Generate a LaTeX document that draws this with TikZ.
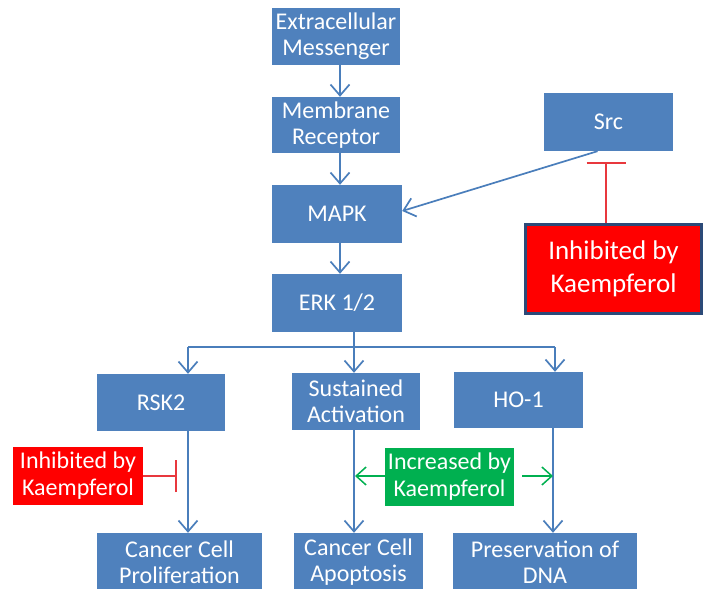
\documentclass[tikz,border=0pt]{standalone}
\usepackage{fontspec}
\setmainfont{Carlito}
\usetikzlibrary{arrows.meta}
\definecolor{boxblue}{HTML}{4F81BD}
\definecolor{lineblue}{HTML}{4A7EBB}
\definecolor{inhred}{HTML}{FF0000}
\definecolor{barred}{HTML}{E8383D}
\definecolor{incgreen}{HTML}{00B050}
\definecolor{navy}{HTML}{2C4A78}
\tikzset{
  bluebox/.style={fill=boxblue, text=white, align=center, inner sep=0pt,
    font=\fontsize{24}{26}\selectfont},
  redbox/.style={fill=inhred, text=white, align=center, inner sep=0pt,
    font=\fontsize{24}{27}\selectfont},
  greenbox/.style={fill=incgreen, text=white, align=center, inner sep=0pt,
    font=\fontsize{24}{27}\selectfont},
  flow/.style={draw=lineblue, line width=1.7pt, -{Straight Barb[length=11pt,width=19pt,line width=1.7pt]}},
  flowline/.style={draw=lineblue, line width=1.7pt},
  inhib/.style={draw=barred, line width=1.5pt},
  incarrow/.style={draw=incgreen, line width=1.5pt, -{Straight Barb[length=10pt,width=18pt,line width=1.5pt]}}
}
\begin{document}
\begin{tikzpicture}[x=1pt,y=-1pt]
\useasboundingbox (0,0) rectangle (707,589);
\fill[white] (0,0) rectangle (707,589);

% top chain
\node[bluebox, minimum width=128pt, minimum height=57pt] (ext) at (336,36.5) {Extracellular\\Messenger};
\node[bluebox, minimum width=128pt, minimum height=56pt] (mem) at (336,125) {Membrane\\Receptor};
\node[bluebox, minimum width=130pt, minimum height=58pt] (mapk) at (337,214) {MAPK};
\node[bluebox, minimum width=130pt, minimum height=58pt] (erk) at (337,303) {ERK 1/2};

% Src and its inhibitor
\node[bluebox, minimum width=129pt, minimum height=58pt] (src) at (608.5,122) {Src};
\node[fill=inhred, draw=navy, line width=3pt, text=white, align=center, inner sep=0pt,
  font=\fontsize{27}{33}\selectfont, minimum width=176pt, minimum height=89pt] (inh1) at (613.5,269) {Inhibited by\\Kaempferol};

% middle row
\node[bluebox, minimum width=128pt, minimum height=57pt] (rsk) at (161,402.5) {RSK2};
\node[bluebox, minimum width=128pt, minimum height=57pt] (sus) at (356,401.5) {Sustained\\Activation};
\node[bluebox, minimum width=129pt, minimum height=56pt] (ho) at (518.5,400) {HO-1};

% bottom row
\node[bluebox, minimum width=165pt, minimum height=59pt] (prol) at (179.5,562.5) {Cancer Cell\\Proliferation};
\node[bluebox, minimum width=129pt, minimum height=59pt] (apop) at (358.5,562.5) {Cancer Cell\\Apoptosis};
\node[bluebox, minimum width=184pt, minimum height=59pt] (dna) at (545,562.5) {Preservation of\\DNA};

% modifiers
\node[redbox, minimum width=130pt, minimum height=58pt] (inh2) at (78,476) {Inhibited by\\Kaempferol};
\node[greenbox, minimum width=129pt, minimum height=58pt] (inc) at (449.5,477) {Increased by\\Kaempferol};

% chain arrows
\draw[flow] ([xshift=4pt]ext.south) -- ([xshift=4pt]mem.north);
\draw[flow] ([xshift=4pt]mem.south) -- ([xshift=3pt]mapk.north);
\draw[flow] ([xshift=3pt]mapk.south) -- ([xshift=3pt]erk.north);
\draw[flow] ([xshift=-11pt]src.south) -- ([yshift=3pt]mapk.east);

% branching
\coordinate (split) at (354,347);
\coordinate (bl) at (188,347);
\coordinate (br) at (555,347);
\draw[flowline] (erk.south -| split) -- (split);
\draw[flowline] (bl) -- (br);
\draw[flow] (bl) -- (bl |- rsk.north);
\draw[flow] (split) -- (split |- sus.north);
\draw[flow] (br) -- (br |- ho.north);

% to outcomes
\draw[flow] (rsk.south -| bl) -- (prol.north -| bl);
\draw[flow] (sus.south -| split) -- (apop.north -| split);
\coordinate (hx) at (553,0);
\draw[flow] (ho.south -| hx) -- (dna.north -| hx);

% inhibitions
\coordinate (bar1) at (606,163);
\draw[inhib] (inh1.north -| bar1) -- (bar1);
\draw[inhib] ([xshift=-19.5pt]bar1) -- ([xshift=19.5pt]bar1);
\coordinate (bar2) at (176,476);
\draw[inhib] (inh2.east) -- (bar2);
\draw[inhib] ([yshift=-16pt]bar2) -- ([yshift=16pt]bar2);

% increases
\coordinate (gl) at (355,476);
\coordinate (gr) at (553,476);
\draw[incarrow] (inc.west |- gl) -- (gl);
\draw[incarrow] ([xshift=8pt]inc.east |- gr) -- (gr);
\end{tikzpicture}
\end{document}
